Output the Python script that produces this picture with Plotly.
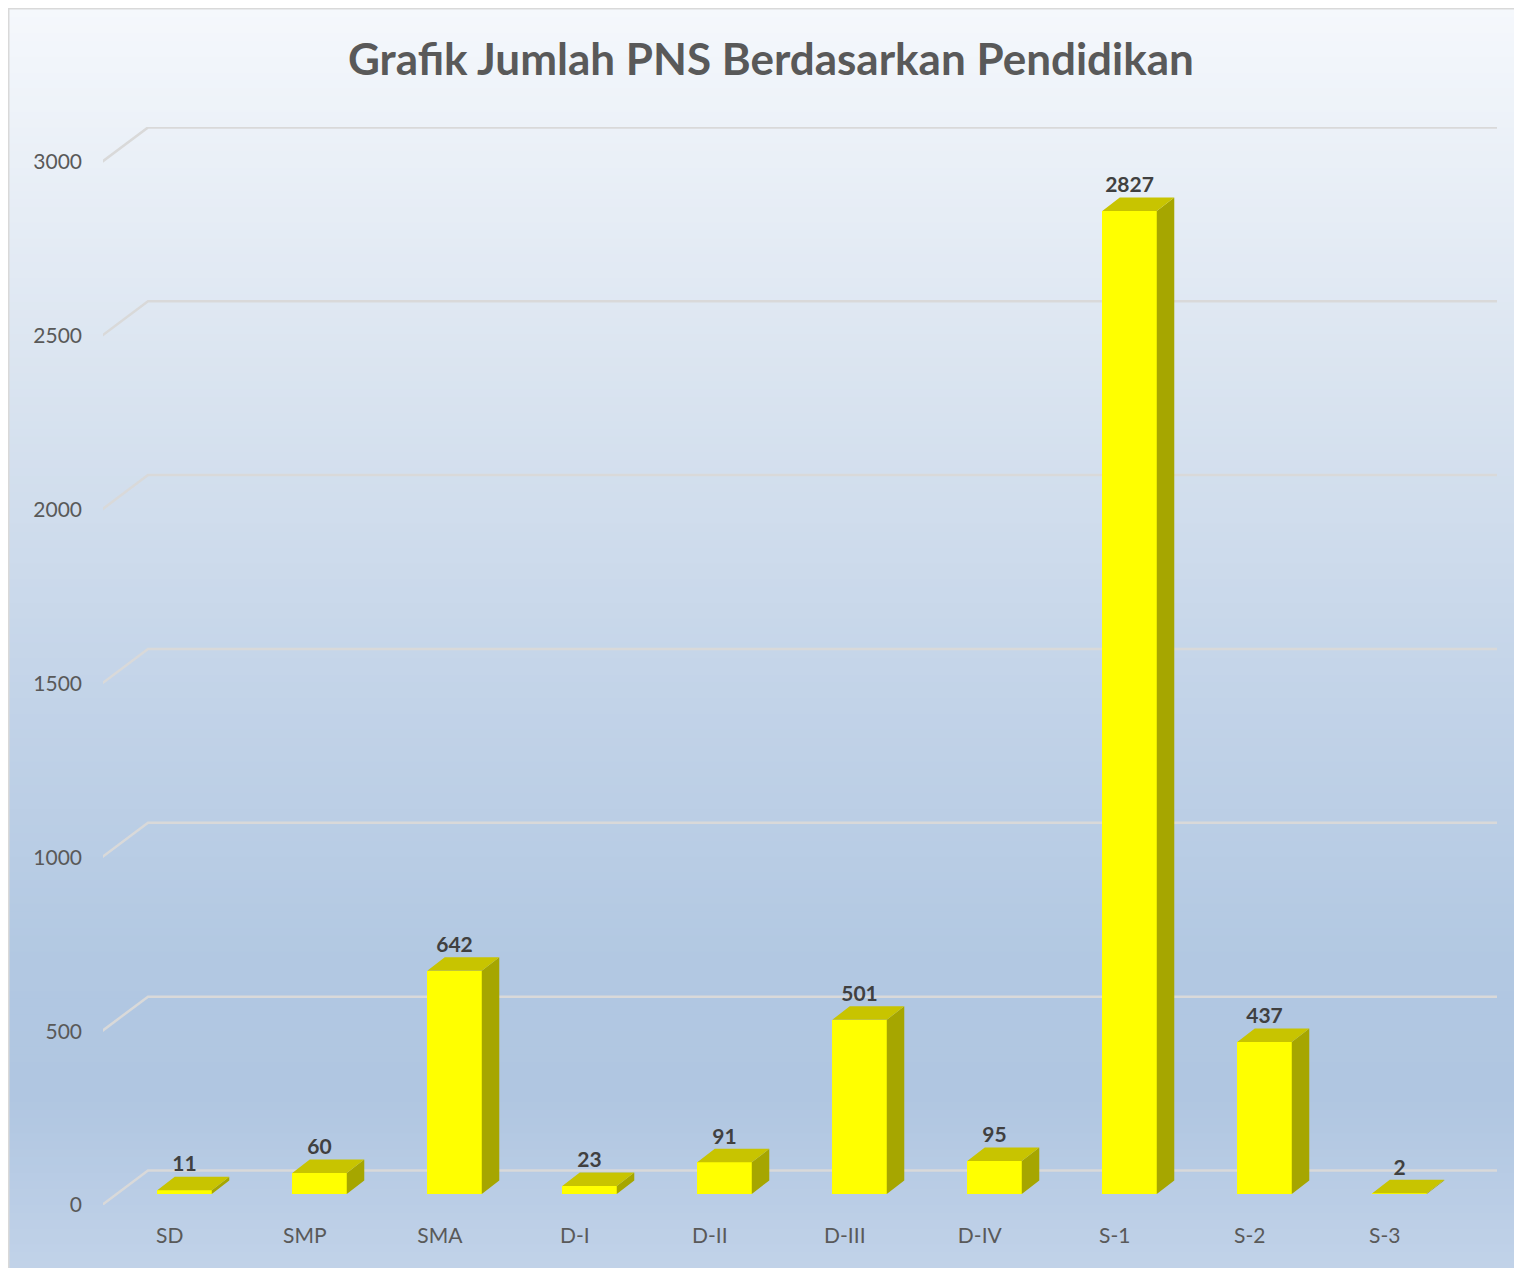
import plotly.graph_objects as go

categories = ["SD", "SMP", "SMA", "D-I", "D-II", "D-III", "D-IV", "S-1", "S-2", "S-3"]
values = [11, 60, 642, 23, 91, 501, 95, 2827, 437, 2]
y_ticks = [0, 500, 1000, 1500, 2000, 2500, 3000]
title_text = "Grafik Jumlah PNS Berdasarkan Pendidikan"

# ---- geometry (pixel layout inside the figure; page adds an 8px body margin) ----
W, H = 1522, 1268
OFF = 8
PL, PR, PT, PB = 103 - OFF, 1497 - OFF, 127 - OFF, 1205 - OFF   # plot area in px
SPACING = 135.0                                 # px per category
X0_PX = 169.8 - OFF                             # front-plane px of category 0
PX_PER_UNIT = 0.3477                            # px per value unit
XR = [(PL - X0_PX) / SPACING, (PR - X0_PX) / SPACING]
YR = [0, (PB - PT) / PX_PER_UNIT]

DX = 46 / SPACING          # full depth shift (x units)
DY = 34.5 / PX_PER_UNIT    # full depth shift (y units)
D_FRONT = 0.32             # bar front-face depth fraction
HW = 27.25 / SPACING       # bar half width
BDX = 17.5 / SPACING       # bar depth x
BDY = 13.5 / PX_PER_UNIT   # bar depth y

fig = go.Figure()

# ---- background gradient (decoration) ----
stops = [(0.0, (245, 248, 252)), (0.29, (218, 228, 240)), (0.55, (194, 211, 232)),
         (0.75, (178, 200, 226)), (0.86, (176, 198, 225)), (1.0, (194, 211, 233))]


def col_at(t):
    for (t0, c0), (t1, c1) in zip(stops[:-1], stops[1:]):
        if t <= t1:
            f = (t - t0) / (t1 - t0) if t1 > t0 else 0
            return "rgb(%d,%d,%d)" % tuple(round(a + (b - a) * f) for a, b in zip(c0, c1))
    return "rgb(%d,%d,%d)" % stops[-1][1]


def px2paper_x(px):
    return (px - PL) / (PR - PL)


def px2paper_y(py):
    return (PB - py) / (PB - PT)


shapes = []
TOP, LEFT = 1, 1
N = 160
step = (H - TOP) / N
for k in range(N):
    y_a = TOP + k * step
    y_b = y_a + step + 1
    shapes.append(dict(type="rect", xref="paper", yref="paper", layer="below",
                       x0=px2paper_x(LEFT), x1=px2paper_x(W + 2),
                       y0=px2paper_y(min(y_b, H + 2)), y1=px2paper_y(y_a),
                       fillcolor=col_at((k + 0.5) / N), line=dict(width=0)))
# light border on top and left
shapes.append(dict(type="line", xref="paper", yref="paper", layer="below",
                   x0=px2paper_x(0), x1=px2paper_x(W + 2),
                   y0=px2paper_y(0.5), y1=px2paper_y(0.5),
                   line=dict(color="#D9D9D9", width=2)))
shapes.append(dict(type="line", xref="paper", yref="paper", layer="below",
                   x0=px2paper_x(0.5), x1=px2paper_x(0.5),
                   y0=px2paper_y(0), y1=px2paper_y(H + 2),
                   line=dict(color="#D9D9D9", width=2)))

# ---- gridlines (back wall + floor-edge diagonals) on the base axes ----
gx, gy = [], []
x_front_left = (102 - OFF - X0_PX) / SPACING
for v in y_ticks:
    gx += [x_front_left, x_front_left + DX, XR[1], None]
    gy += [v, v + DY, v + DY, None]
fig.add_trace(go.Scatter(x=gx, y=gy, mode="lines", line=dict(color="#D9D9D9", width=2.5),
                         hoverinfo="skip", showlegend=False, cliponaxis=False))

# ---- bars (on an overlaid axis pair with identical scales, drawn above gridlines) ----
base = D_FRONT * DY
xshift = D_FRONT * DX
sx, sy, tx, ty = [], [], [], []
for i, v in enumerate(values):
    xc = i + xshift
    top = base + v
    sx += [xc + HW, xc + HW, xc + HW + BDX, xc + HW + BDX, xc + HW, None]
    sy += [base, top, top + BDY, base + BDY, base, None]
    tx += [xc - HW, xc + HW, xc + HW + BDX, xc - HW + BDX, xc - HW, None]
    ty += [top, top, top + BDY, top + BDY, top, None]

fig.add_trace(go.Bar(x=[i + xshift for i in range(len(values))], y=values, base=base,
                     width=2 * HW, marker=dict(color="#FFFF00", line=dict(width=0)),
                     showlegend=False, hovertext=categories, xaxis="x2", yaxis="y2"))
fig.add_trace(go.Scatter(x=sx, y=sy, mode="lines", fill="toself", fillcolor="#A6A600",
                         line=dict(width=0, color="#A6A600"), hoverinfo="skip", showlegend=False,
                         xaxis="x2", yaxis="y2"))
fig.add_trace(go.Scatter(x=tx, y=ty, mode="lines", fill="toself", fillcolor="#C8C400",
                         line=dict(width=0, color="#C8C400"), hoverinfo="skip", showlegend=False,
                         xaxis="x2", yaxis="y2"))

# ---- data labels ----
fig.add_trace(go.Scatter(x=[i + xshift for i in range(len(values))],
                         y=[base + v + BDY for v in values],
                         mode="text", text=[str(v) for v in values], textposition="top center",
                         textfont=dict(family="Lato", size=21, color="#404040", weight="bold"),
                         hoverinfo="skip", showlegend=False, cliponaxis=False,
                         xaxis="x2", yaxis="y2"))

fig.add_annotation(text="<b>" + title_text + "</b>", xref="paper", yref="paper",
                   x=px2paper_x(771 - OFF), y=px2paper_y(58 - OFF), xanchor="center", yanchor="middle",
                   showarrow=False, font=dict(family="Lato", size=44, color="#595959"))

fig.update_layout(
    width=W, height=H,
    margin=dict(l=PL, r=W - PR, t=PT, b=H - PB, pad=0),
    paper_bgcolor="white", plot_bgcolor="rgba(0,0,0,0)",
    shapes=shapes, bargap=0,
    font=dict(family="Lato", size=21, color="#595959"),
    xaxis=dict(range=XR, tickvals=list(range(len(categories))), ticktext=categories,
               showgrid=False, zeroline=False, showline=False, ticks="",
               ticklabelstandoff=16, fixedrange=True),
    yaxis=dict(range=YR, tickvals=y_ticks, showgrid=False, zeroline=False, showline=False,
               ticks="", ticklabelstandoff=20, fixedrange=True),
    xaxis2=dict(range=XR, overlaying="x", visible=False, fixedrange=True),
    yaxis2=dict(range=YR, overlaying="y", visible=False, fixedrange=True),
)

fig.write_html("out.html")
